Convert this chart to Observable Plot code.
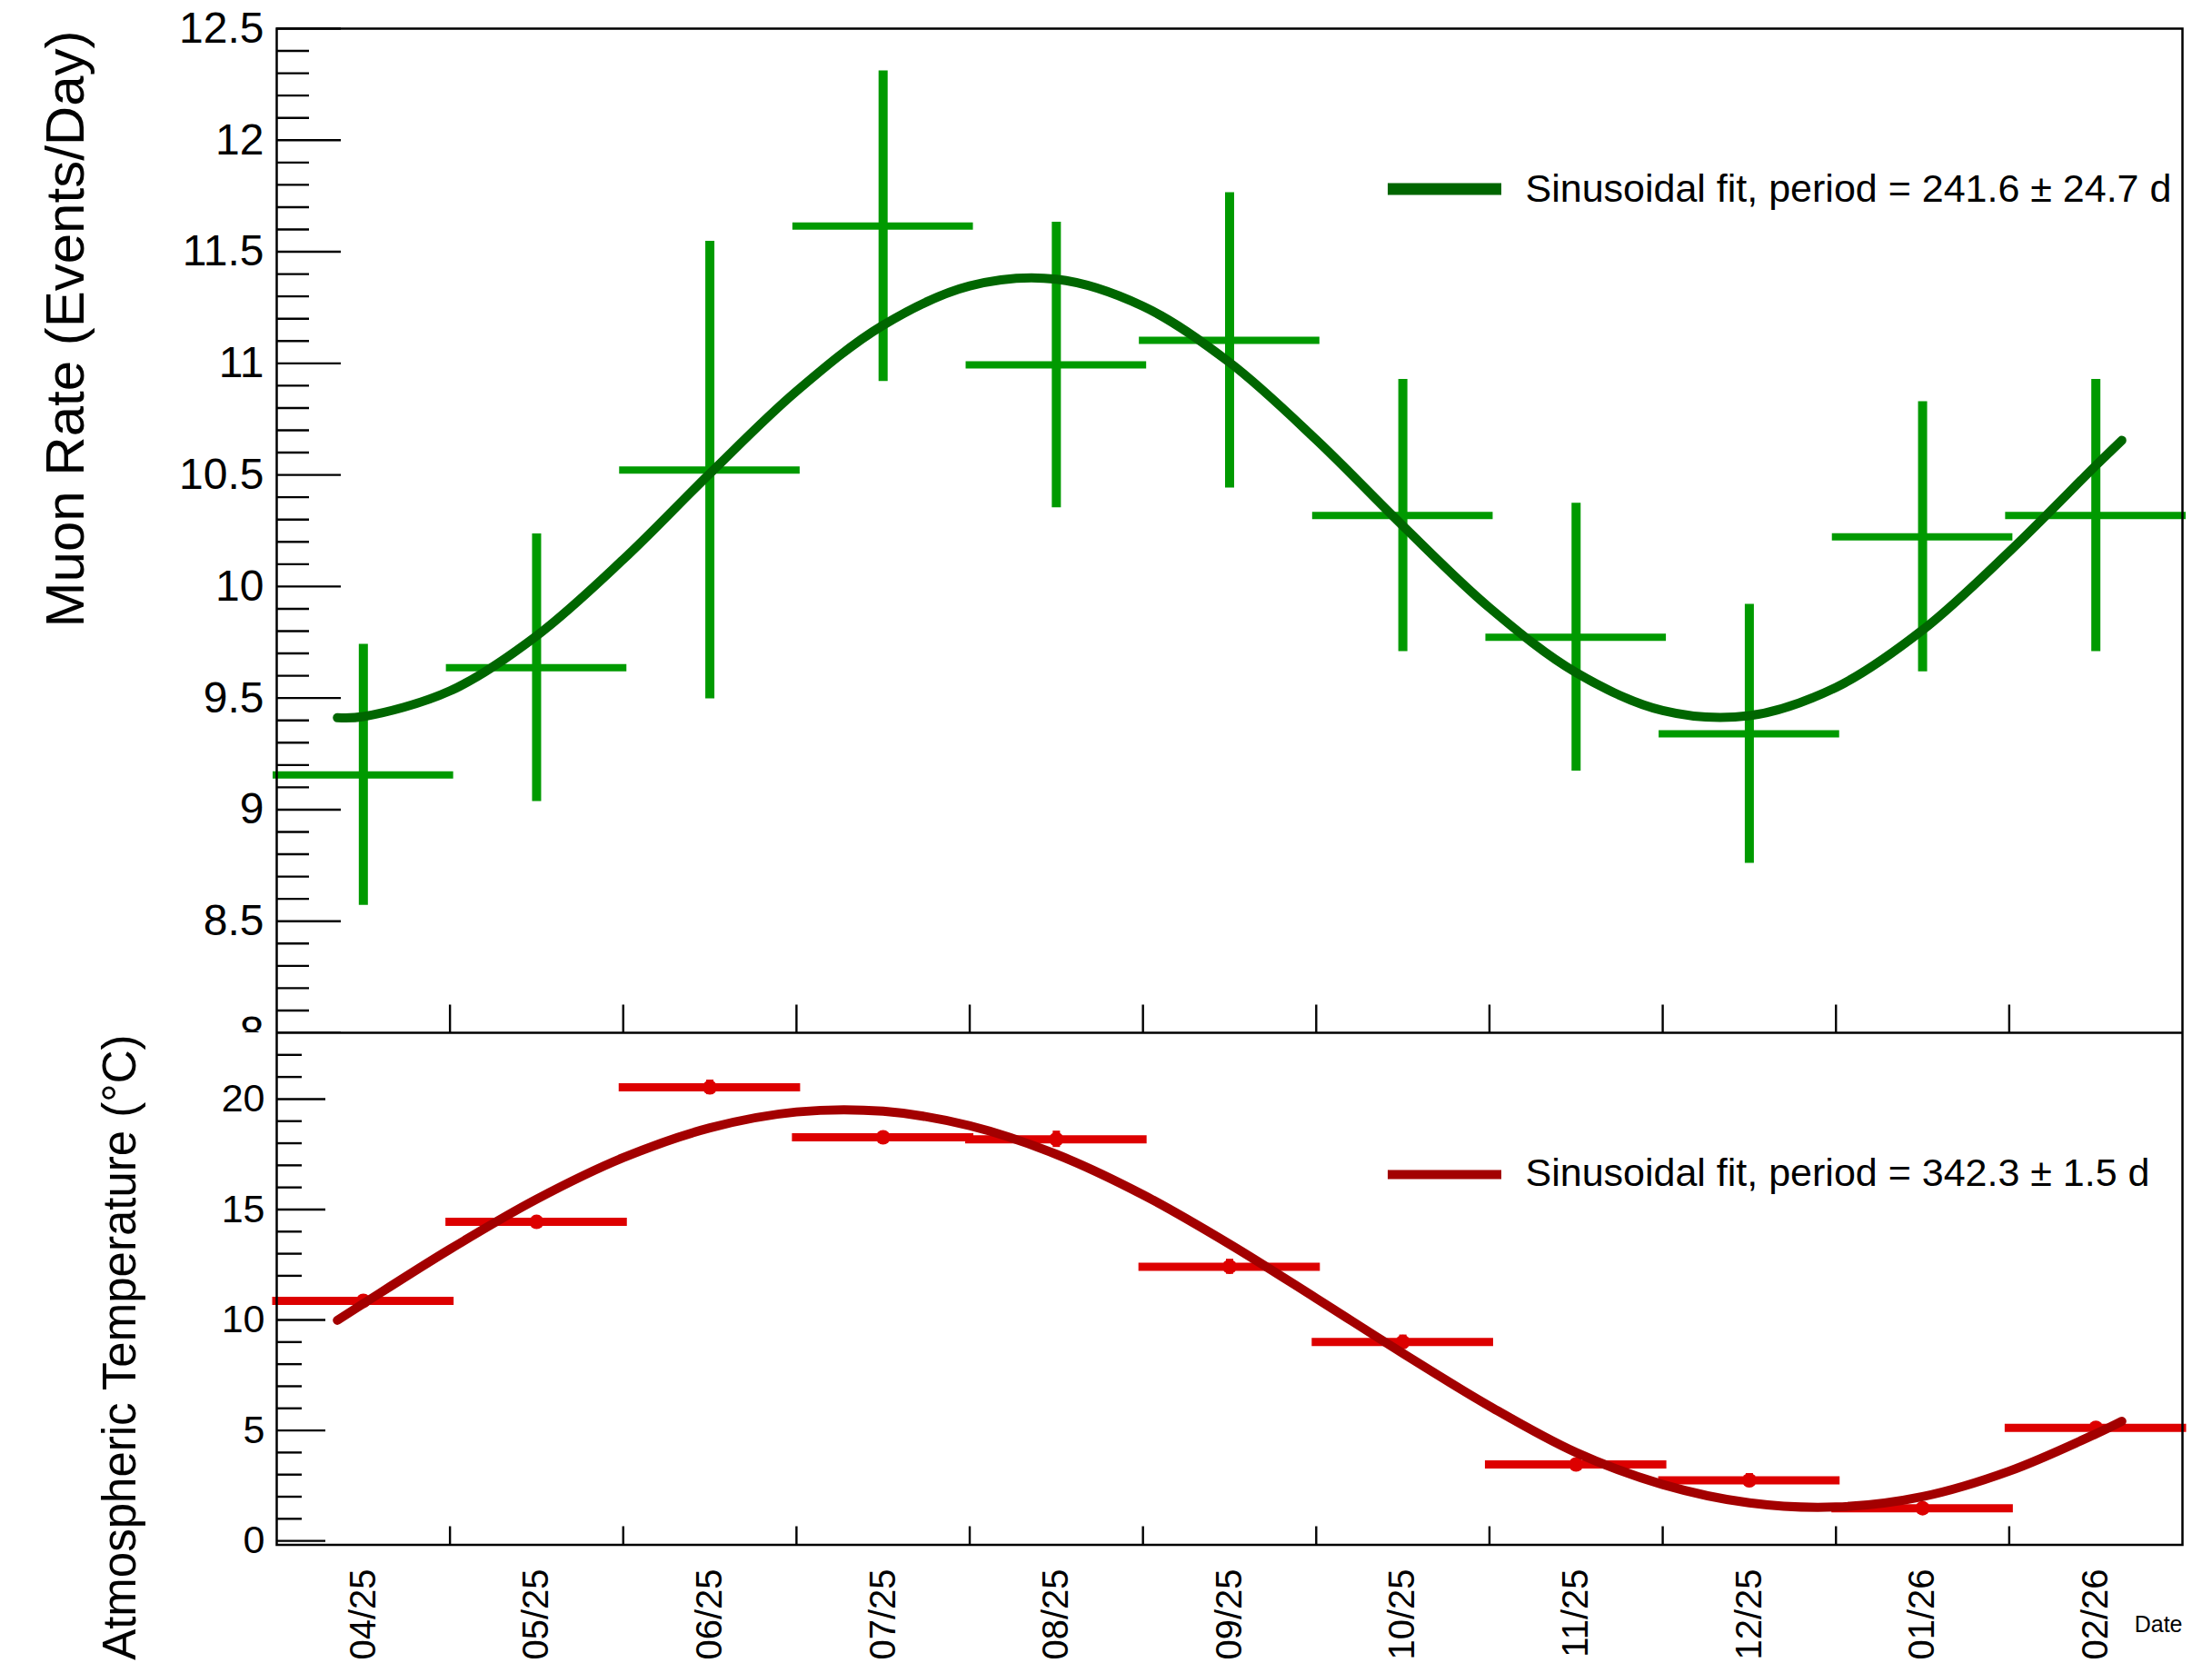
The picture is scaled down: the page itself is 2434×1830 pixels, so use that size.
<!DOCTYPE html>
<html>
<head>
<meta charset="utf-8">
<script src="https://cdn.jsdelivr.net/npm/d3@7"></script>
<script src="https://cdn.jsdelivr.net/npm/@observablehq/plot@0.6"></script>
<style>
  html, body { margin: 0; padding: 0; background: #fff; }
  #chart { position: relative; width: 2434px; height: 1830px; overflow: hidden; background: #fff; }
  #chart svg { position: absolute; left: 0; }
  g[aria-label="month-labels"] text { letter-spacing: -1.5px; }
</style>
</head>
<body>
<div id="chart"></div>
<script>
// ---------------- data ----------------
const months = ["04/25", "05/25", "06/25", "07/25", "08/25", "09/25", "10/25", "11/25", "12/25", "01/26", "02/26"];

const muonRate = [9.156, 9.636, 10.522, 11.615, 10.993, 11.103, 10.318, 9.773, 9.340, 10.223, 10.318];
const muonErr  = [0.585, 0.600, 1.025, 0.696, 0.640, 0.662, 0.610, 0.600, 0.580, 0.605, 0.610];

const temperature    = [10.87, 14.44, 20.53, 18.27, 18.18, 12.41, 9.00, 3.46, 2.74, 1.48, 5.12];
const temperatureErr = [0.25, 0.25, 0.33, 0.25, 0.37, 0.34, 0.32, 0.25, 0.31, 0.25, 0.20];

// fit curves sampled along the x axis (position in month bins)
const fitX    = [0.35, 0.5, 1.0, 1.5, 2.0, 2.5, 3.0, 3.5, 4.0, 4.5, 5.0, 5.5, 6.0, 6.5, 7.0, 7.5, 8.0, 8.5, 9.0, 9.5, 10.0, 10.5, 10.65];
const muonFit = [9.412, 9.417, 9.532, 9.779, 10.121, 10.506, 10.875, 11.171, 11.347, 11.377, 11.256, 11.004, 10.658, 10.272, 9.905, 9.614, 9.444, 9.421, 9.548, 9.805, 10.156, 10.542, 10.655];
const tempFit = [9.985, 10.738, 13.204, 15.465, 17.344, 18.695, 19.416, 19.449, 18.793, 17.499, 15.669, 13.432, 10.979, 8.488, 6.10, 4.00, 2.55, 1.72, 1.533, 2.006, 3.158, 4.844, 5.415];

const muonTicks = [8, 8.5, 9, 9.5, 10, 10.5, 11, 11.5, 12, 12.5];
const muonTickLabels = ["8", "8.5", "9", "9.5", "10", "10.5", "11", "11.5", "12", "12.5"];
const tempTicks = [0, 5, 10, 15, 20];
const tempTickLabels = ["0", "5", "10", "15", "20"];

const muonTitle = "Muon Rate (Events/Day)";
const tempTitle = "Atmospheric Temperature (°C)";
const muonLegend = "Sinusoidal fit, period = 241.6 ± 24.7 d";
const tempLegend = "Sinusoidal fit, period = 342.3 ± 1.5 d";
const xTitle = "Date";

// ---------------- tables for the library ----------------
const muonRows = months.map((m, i) => ({i, rate: muonRate[i], err: muonErr[i]}));
const tempRows = months.map((m, i) => ({i, t: temperature[i], err: temperatureErr[i]}));
const muonFitRows = fitX.map((x, i) => ({x, y: muonFit[i]}));
const tempFitRows = fitX.map((x, i) => ({x, y: tempFit[i]}));
const boundaries = months.slice(1).map((m, i) => i + 1);
const muonMinor = d3.range(81, 125).filter(v => v % 5 !== 0).map(v => v / 10);
const tempMinor = d3.range(1, 23).filter(v => v % 5 !== 0);

// ---------------- styling / layout ----------------
const FONT = "'Liberation Sans', Arial, Helvetica, sans-serif";
const W = 2434, ML = 304, MR = 33;
const PW = W - ML - MR;               // plot width
const UP_H = 1136, UP_T = 31;         // upper svg
const UP_PH = UP_H - UP_T;            // upper plot height
const LO_H = 694, LO_B = 130.5;       // lower svg
const LO_PH = LO_H - LO_B;            // lower plot height
const GREEN = "#009a00", DKGREEN = "#006600";
const RED = "#dd0000", DKRED = "#a30000";
const muonLegendY = 11.781;
const tempLegendY = 16.583;

const upper = Plot.plot({
  width: W, height: UP_H,
  marginLeft: ML, marginRight: MR, marginTop: UP_T, marginBottom: 0,
  x: {domain: [0, 11], axis: null},
  y: {domain: [8, 12.5], axis: null},
  style: {fontFamily: FONT, background: "white", color: "black"},
  marks: [
    Plot.tickY(muonMinor, {y: d => d, insetRight: PW - 36, stroke: "black", strokeWidth: 2.4}),
    Plot.tickY(muonTicks, {y: d => d, insetRight: PW - 71, stroke: "black", strokeWidth: 2.4}),
    Plot.tickX(boundaries, {x: d => d, insetTop: UP_PH - 30.5, stroke: "black", strokeWidth: 2.4}),
    Plot.axisY(muonTicks, {anchor: "left", tickSize: 0, tickPadding: 14, fontSize: 48, label: null,
      tickFormat: d => muonTickLabels[muonTicks.indexOf(d)]}),
    Plot.ruleY(muonRows, {y: "rate", x1: "i", x2: d => d.i + 1, stroke: GREEN, strokeWidth: 8, strokeLinecap: "square"}),
    Plot.ruleX(muonRows, {x: d => d.i + 0.5, y1: d => d.rate - d.err, y2: d => d.rate + d.err, stroke: GREEN, strokeWidth: 10}),
    Plot.line(muonFitRows, {x: "x", y: "y", stroke: DKGREEN, strokeWidth: 10, curve: "catmull-rom"}),
    Plot.ruleY([muonLegendY], {insetLeft: 1223, insetRight: 749, stroke: DKGREEN, strokeWidth: 13}),
    Plot.text([muonLegend], {text: d => d, frameAnchor: "top-left", dx: 1374, dy: 190.7, textAnchor: "start", lineAnchor: "bottom", fontSize: 43, fill: "black"}),
    Plot.text([muonTitle], {text: d => d, frameAnchor: "top-left", rotate: -90, textAnchor: "end", lineAnchor: "bottom", dx: -212.5, dy: 2, fontSize: 60, fill: "black"}),
    Plot.frame({stroke: "black", strokeWidth: 2.5})
  ]
});

const lower = Plot.plot({
  width: W, height: LO_H,
  marginLeft: ML, marginRight: MR, marginTop: 0, marginBottom: LO_B,
  x: {domain: [0, 11], axis: null},
  y: {domain: [-0.18, 23], axis: null},
  style: {fontFamily: FONT, background: "white", color: "black"},
  marks: [
    Plot.tickY(tempMinor, {y: d => d, insetRight: PW - 28, stroke: "black", strokeWidth: 2.4}),
    Plot.tickY(tempTicks, {y: d => d, insetRight: PW - 54, stroke: "black", strokeWidth: 2.4}),
    Plot.tickX(boundaries, {x: d => d, insetTop: LO_PH - 20, stroke: "black", strokeWidth: 2.4}),
    Plot.axisY(tempTicks, {anchor: "left", tickSize: 0, tickPadding: 13, fontSize: 43, label: null,
      tickFormat: d => tempTickLabels[tempTicks.indexOf(d)]}),
    Plot.ruleY(tempRows, {y: "t", x1: "i", x2: d => d.i + 1, stroke: RED, strokeWidth: 9, strokeLinecap: "square"}),
    Plot.ruleX(tempRows, {x: d => d.i + 0.5, y1: d => d.t - d.err, y2: d => d.t + d.err, stroke: RED, strokeWidth: 8}),
    Plot.dot(tempRows, {x: d => d.i + 0.5, y: "t", r: 8, fill: RED}),
    Plot.line(tempFitRows, {x: "x", y: "y", stroke: DKRED, strokeWidth: 10, curve: "catmull-rom"}),
    Plot.ruleY([tempLegendY], {insetLeft: 1223, insetRight: 749, stroke: DKRED, strokeWidth: 10}),
    Plot.text([tempLegend], {text: d => d, frameAnchor: "top-left", dx: 1374, dy: 168, textAnchor: "start", lineAnchor: "bottom", fontSize: 43, fill: "black"}),
    Plot.text([tempTitle], {text: d => d, frameAnchor: "top-left", rotate: -90, textAnchor: "end", lineAnchor: "bottom", dx: -155.7, dy: 2, fontSize: 51, fill: "black"}),
    Plot.text(months, {text: d => d, x: (d, i) => i + 0.5, frameAnchor: "bottom", rotate: -90, textAnchor: "end", lineAnchor: "middle", dy: 26.5, fontSize: 40, fill: "black", ariaLabel: "month-labels"}),
    Plot.text([xTitle], {text: d => d, frameAnchor: "bottom-right", textAnchor: "end", lineAnchor: "bottom", dy: 95.5, fontSize: 25, fill: "black"}),
    Plot.frame({stroke: "black", strokeWidth: 2.5})
  ]
});

const chart = document.getElementById("chart");
upper.style.top = "0px";
lower.style.top = UP_H + "px";
chart.appendChild(upper);
chart.appendChild(lower);
</script>
</body>
</html>
